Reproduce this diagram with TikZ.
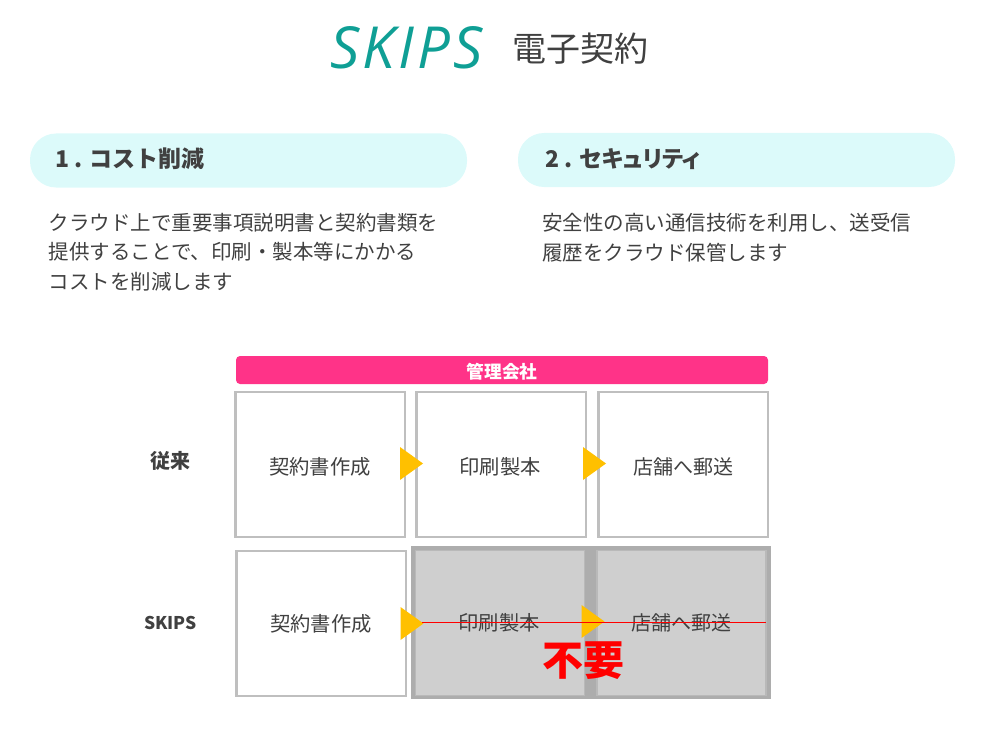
\documentclass[tikz,border=0pt]{standalone}
\usepackage{fontspec}
\setmainfont{Noto Sans CJK JP}
\newfontfamily\logofont[LetterSpace=5.5]{Open Sans}
\newcommand{\tightkana}{\addfontfeatures{RawFeature=+palt}}
\usetikzlibrary{positioning,shapes.geometric}
\definecolor{inkgray}{HTML}{404040}
\definecolor{pillblue}{HTML}{DCFAFA}
\definecolor{headerpink}{HTML}{FF3388}
\definecolor{boxline}{HTML}{BFBFBF}
\definecolor{logoteal}{HTML}{0F9F95}
\definecolor{arrowgold}{HTML}{FFC000}
\definecolor{outgray}{HTML}{ADADAD}
\definecolor{outfill}{HTML}{CFCFCF}
\tikzset{
  pill/.style={fill=pillblue,rounded corners=26pt,minimum width=437pt,minimum height=54pt,outer sep=0pt},
  pilltext/.style={anchor=west,inner sep=0pt,text=inkgray,font=\fontsize{23}{28}\selectfont\bfseries},
  bodytext/.style={anchor=north west,inner sep=0pt,align=left,text=inkgray,font=\fontsize{20.5}{29.5}\selectfont},
  stepbox/.style={draw=boxline,line width=2.5pt,fill=white,minimum width=169.5pt,minimum height=145pt,outer sep=0pt,
    text=inkgray,font=\fontsize{20.3}{24}\selectfont},
  lowtext/.style={text height=19.4pt,text depth=0pt},
  outbox/.style={stepbox,draw=outgray!85!white,fill=outfill,line width=1.5pt,minimum width=169pt,minimum height=145pt},
  rowlabel/.style={text=inkgray,inner sep=0pt,font=\bfseries},
  flowtip/.style={isosceles triangle,isosceles triangle stretches,shape border rotate=0,fill=arrowgold,
    minimum width=33pt,minimum height=23pt,inner sep=0pt,outer sep=0pt,anchor=apex}
}
\begin{document}
\begin{tikzpicture}[x=1pt,y=-1pt,node distance=181pt,on grid]
  \useasboundingbox (0,0) rectangle (988,733);
  \node[inner sep=0pt,text=logoteal,font=\fontsize{58}{62}\selectfont\logofont\itshape] (logo) at (406.5,47.5) {SKIPS};
  \node[inner sep=0pt,text=inkgray,font=\fontsize{34}{40}\selectfont] (title) at (580.5,49) {電子契約};

  \node[pill] (costpill) at (248.5,160.5) {};
  \node[pill] (securepill) at (736.5,160) {};
  \node[pilltext] (costhead) at (55,159) {1 . コスト削減};
  \node[pilltext] (securehead) at (545,159) {2 . {\tightkana セキュリティ}};
  \node[bodytext] (costbody) at (48.5,213) {クラウド上で重要事項説明書と契約書類を\\提供することで、印刷・製本等にかかる\\コストを削減します};
  \node[bodytext] (securebody) at (542,213) {安全性の高い通信技術を利用し、送受信\\履歴をクラウド保管します};

  \node[fill=headerpink,rounded corners=4pt,minimum width=532pt,minimum height=28pt,inner sep=0pt,text=white,
    text height=16.4pt,text depth=0pt,font=\fontsize{17.7}{20}\selectfont\bfseries] (company) at (502,370) {管理会社};

  \node[rowlabel,font=\fontsize{20}{24}\selectfont\bfseries] (oldlabel) at (170,461) {従来};
  \node[stepbox,lowtext] (oldmake) at (320,464.5) {契約書作成};
  \node[stepbox,lowtext] (oldprint) [right=of oldmake] {\hspace{-2pt}印刷製本};
  \node[stepbox,lowtext] (oldpost) [right=182pt of oldprint] {\fontsize{20}{24}\selectfont 店舗へ郵送};
  \node[flowtip] (oldtipa) at (423,463.5) {};
  \node[flowtip] (oldtipb) at (606,463.5) {};

  \node[rowlabel,font=\fontsize{17.5}{20}\selectfont\bfseries] (newlabel) at (170.5,622.5) {SKIPS};
  \node[stepbox] (newmake) at (321,623.5) {契約書作成};
  \node[fill=outgray,minimum width=360pt,minimum height=153pt,inner sep=0pt] (outzone) at (591,622.5) {};
  \node[outbox] (newprint) at (500,623) {\hspace{-2pt}印刷製本};
  \node[outbox] (newpost) at (681.5,623) {\fontsize{20}{24}\selectfont 店舗へ郵送};
  \node[flowtip] (newtipa) at (423.5,623.5) {};
  \node[flowtip] (newtipb) at (604.5,621.5) {};

  \coordinate (strikeleft) at (422,622.3);
  \coordinate (strikeright) at (766,622.3);
  \draw[red,line width=1pt] (strikeleft) -- (strikeright);
  \node[inner sep=0pt,text=red,font=\fontsize{41}{46}\selectfont\bfseries] (dropped) at (583,661) {不要};
\end{tikzpicture}
\end{document}
